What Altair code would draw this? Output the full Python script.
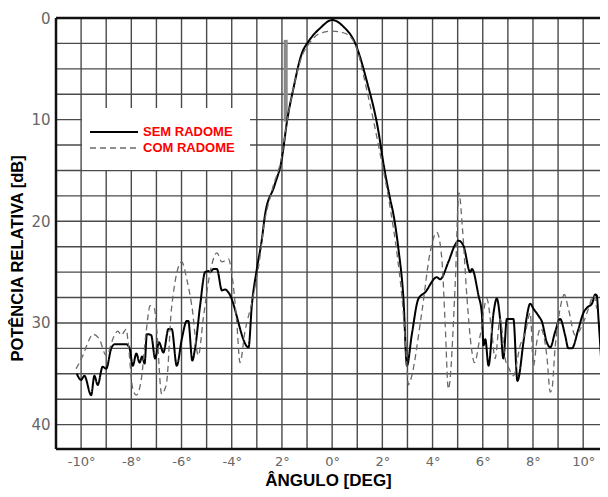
import altair as alt
import pandas as pd

# ---- data (angle in degrees, relative power in dB below peak) ----
sem_x = [-10.17, -10.0, -9.87, -9.6, -9.47, -9.34, -9.14, -9.0, -8.8, -8.67, -8.2, -8.07,
         -7.94, -7.8, -7.67, -7.57, -7.47, -7.38, -7.21, -7.05, -6.9, -6.72, -6.52, -6.39,
         -6.19, -5.99, -5.79, -5.73, -5.57, -5.46, -5.26, -5.06, -4.93, -4.86, -4.73, -4.59,
         -4.39, -4.26, -4.13, -3.33, -3.2, -3.0, -2.8, -2.67, -2.3, -2.0, -1.8, -1.54, -1.21,
         -0.94, -0.48, 0.0, 0.45, 0.92, 1.38, 1.84, 2.05, 2.31, 2.44, 2.64, 2.84, 2.98, 3.17,
         3.44, 3.7, 4.17, 4.3, 4.63, 4.9, 5.03, 5.23, 5.5, 5.57, 5.83, 5.96, 6.03, 6.1, 6.23,
         6.43, 6.56, 6.69, 6.82, 6.96, 7.22, 7.38, 7.62, 7.76, 7.89, 8.02, 8.22, 8.36, 8.55,
         8.69, 8.88, 9.08, 9.28, 9.41, 9.55, 9.81, 10.01, 10.15, 10.35, 10.48, 10.54, 10.61,
         10.75]
sem_db = [35.0, 35.6, 35.2, 37.1, 35.2, 36.1, 34.3, 34.5, 32.5, 32.1, 32.1, 32.5,
          34.2, 33.0, 33.9, 33.3, 34.0, 31.1, 31.2, 33.5, 31.9, 32.9, 30.6, 30.6,
          34.2, 31.6, 29.8, 29.8, 33.7, 32.5, 28.3, 25.0, 24.9, 25.0, 24.7, 24.7,
          26.8, 26.7, 27.0, 32.4, 28.3, 24.7, 21.8, 19.3, 16.5, 13.8, 10.2, 6.9, 3.5,
          2.3, 1.0, 0.2, 0.85, 2.5, 6.2, 11.1, 14.4, 17.8, 19.3, 22.7, 27.6, 34.2, 31.2,
          27.6, 27.0, 25.5, 25.7, 24.0, 22.3, 21.9, 22.4, 25.0, 24.7, 27.3, 29.0, 32.2, 31.6, 34.2,
          29.0, 27.6, 29.6, 33.5, 29.6, 29.6, 35.7, 31.9, 29.3, 28.1, 28.6, 29.3, 29.9, 31.9,
          32.4, 30.9, 29.6, 31.2, 32.5, 32.5, 30.6, 29.0, 28.5, 28.1, 27.2, 27.3, 29.6,
          35.0]

com_x = [-10.2, -9.93, -9.67, -9.54, -9.27, -9.0, -8.67, -8.54, -8.4, -8.2, -8.14, -7.94,
         -7.8, -7.6, -7.41, -7.25, -7.08, -6.99, -6.79, -6.72, -6.59, -6.4, -5.99, -5.79,
         -5.59, -5.33, -5.13, -4.86, -4.59, -4.39, -4.13, -3.99, -3.8, -3.67, -3.47, -3.2,
         -2.87, -2.74, -2.4, -2.0, -1.8, -1.54, -1.21, -0.94, -0.48, 0.0, 0.5, 0.92, 1.4,
         1.9, 2.3, 2.6, 2.8, 2.95, 3.04, 3.1, 3.57, 3.9, 4.17, 4.37, 4.5, 4.63, 4.9, 5.05,
         5.2, 5.37, 5.55, 5.67, 5.9, 6.16, 6.36, 6.49, 6.69, 6.89, 7.05, 7.22, 7.49, 7.69,
         7.89, 8.02, 8.15, 8.3, 8.55, 8.69, 8.75, 8.88, 9.08, 9.25, 9.41, 9.68, 9.95, 10.21,
         10.41, 10.54]
com_db = [34.5, 33.2, 31.6, 31.1, 31.6, 33.2, 31.2, 30.8, 31.2, 30.6, 31.6, 36.5,
          37.1, 35.5, 30.9, 28.3, 28.6, 30.6, 37.0, 36.8, 35.8, 28.6, 24.0, 25.7,
          28.3, 33.2, 29.5, 25.0, 23.1, 24.0, 23.7, 25.3, 29.9, 33.9, 30.8, 28.0,
          23.4, 20.8, 17.0, 13.5, 10.2, 6.9, 3.8, 2.6, 1.5, 1.3, 1.5, 2.6, 7.3,
          13.2, 18.5, 23.5, 28.0, 33.0, 36.1, 35.8, 29.0, 23.1, 21.1, 23.7, 30.0, 36.5, 26.3, 17.2,
          21.0, 27.5, 32.5, 33.9, 31.2, 27.6, 30.9, 33.5, 29.6, 33.5, 34.5, 35.2, 32.2, 31.0,
          29.0, 34.2, 31.9, 30.5, 33.2, 36.8, 36.6, 32.5, 28.6, 27.2, 28.6, 31.2, 30.3, 28.6,
          27.3, 28.6]

series_names = ["SEM RADOME", "COM RADOME"]
x_tick_values = [-10, -8, -6, -4, -2, 0, 2, 4, 6, 8, 10]
x_tick_labels = ["-10°", "-8°", "-6°", "-4°", "2°", "0°", "2°", "4°", "6°", "8°", "10°"]
y_tick_values = [0, 10, 20, 30, 40]
x_grid = list(range(-10, 11))
y_grid = [2.5 * i for i in range(1, 17)]
x_domain = [-11, 10.67]
y_domain = [0, 42.4]
# scanning artefact (grey bar) visible on the original chart paper
artefact_x = [-1.85]
artefact_top = [2.15]
artefact_bottom = [10.2]

# ---- tables ----
df = pd.concat([
    pd.DataFrame({"ang": sem_x, "db": sem_db, "serie": series_names[0]}),
    pd.DataFrame({"ang": com_x, "db": com_db, "serie": series_names[1]}),
], ignore_index=True)

x_scale = alt.Scale(domain=x_domain, nice=False, zero=False)
y_scale = alt.Scale(domain=y_domain, reverse=True, nice=False, zero=False)

vals = ",".join(str(v) for v in x_tick_values)
labs = ",".join("'" + s + "'" for s in x_tick_labels)
label_expr = f"[{labs}][indexof([{vals}], datum.value)]"

x_axis = alt.Axis(values=x_tick_values, labelExpr=label_expr, grid=False,
                  ticks=False, domain=False, labelFontSize=13,
                  labelColor="#666666", labelFont="DejaVu Sans",
                  labelPadding=6, title="ÂNGULO [DEG]", titleFontSize=17,
                  titleFont="Liberation Sans", titleFontWeight="bold",
                  titleColor="#000000", titleBaseline="bottom", titleY=40)
y_axis = alt.Axis(values=y_tick_values, grid=False, ticks=False, domain=False,
                  labelFontSize=15, labelColor="#666666", labelFont="DejaVu Sans",
                  labelPadding=6, labelBaseline="middle",
                  title="POTÊNCIA RELATIVA [dB]", titleFontSize=16.5,
                  titleFont="Liberation Sans", titleFontWeight="bold",
                  titleColor="#000000", titleX=-31, titleY=240)

grid_color = "#4a4a4a"

vgrid = alt.Chart(pd.DataFrame({"gx": x_grid})).mark_rule(
    color=grid_color, strokeWidth=1.4
).encode(x=alt.X("gx:Q", scale=x_scale, axis=x_axis))

hgrid = alt.Chart(pd.DataFrame({"gy": y_grid})).mark_rule(
    color=grid_color, strokeWidth=1.4
).encode(y=alt.Y("gy:Q", scale=y_scale, axis=y_axis))

frame_left = alt.Chart(pd.DataFrame({"fx": [x_domain[0]]})).mark_rule(
    color="#111111", strokeWidth=2.5
).encode(x=alt.X("fx:Q", scale=x_scale, axis=x_axis))

frame_tb = alt.Chart(pd.DataFrame({"fy": y_domain})).mark_rule(
    color="#111111", strokeWidth=2.5
).encode(y=alt.Y("fy:Q", scale=y_scale, axis=y_axis))

artefact = alt.Chart(pd.DataFrame({"ax": artefact_x, "a1": artefact_top,
                                   "a2": artefact_bottom})).mark_rule(
    color="#8a8a8a", strokeWidth=4
).encode(x=alt.X("ax:Q", scale=x_scale, axis=x_axis),
         y=alt.Y("a1:Q", scale=y_scale, axis=y_axis), y2="a2:Q")

lines = alt.Chart(df).mark_line(clip=True, strokeJoin="round", interpolate="monotone").encode(
    x=alt.X("ang:Q", scale=x_scale, axis=x_axis),
    y=alt.Y("db:Q", scale=y_scale, axis=y_axis),
    color=alt.Color("serie:N",
                    scale=alt.Scale(domain=series_names, range=["#000000", "#6a6a6a"]),
                    legend=alt.Legend(title=None, orient="none", legendX=26, legendY=90,
                                      fillColor="#ffffff", padding=15,
                                      symbolType="M-2,0H4", symbolSize=256,
                                      symbolStrokeWidth=1.5, symbolFillColor="transparent",
                                      labelColor="#ff0000", labelFontSize=13,
                                      labelFontWeight="bold", labelFont="Liberation Sans",
                                      labelOffset=28, rowPadding=0)),
    strokeDash=alt.StrokeDash("serie:N",
                              scale=alt.Scale(domain=series_names, range=[[1, 0], [6, 4]])),
    strokeWidth=alt.StrokeWidth("serie:N",
                                scale=alt.Scale(domain=series_names, range=[2.0, 1.3]),
                                legend=None),
    order=alt.Order("ang:Q"),
)

chart = alt.layer(vgrid, hgrid, artefact, frame_left, frame_tb, lines).properties(
    width=544, height=431,
    autosize=alt.AutoSizeParams(type="none"),
    padding={"left": 48, "top": 10, "right": 0, "bottom": 40},
    background="#ffffff",
).configure_view(strokeWidth=0)

chart.save("out.html", embed_options={"renderer": "svg", "actions": False})
